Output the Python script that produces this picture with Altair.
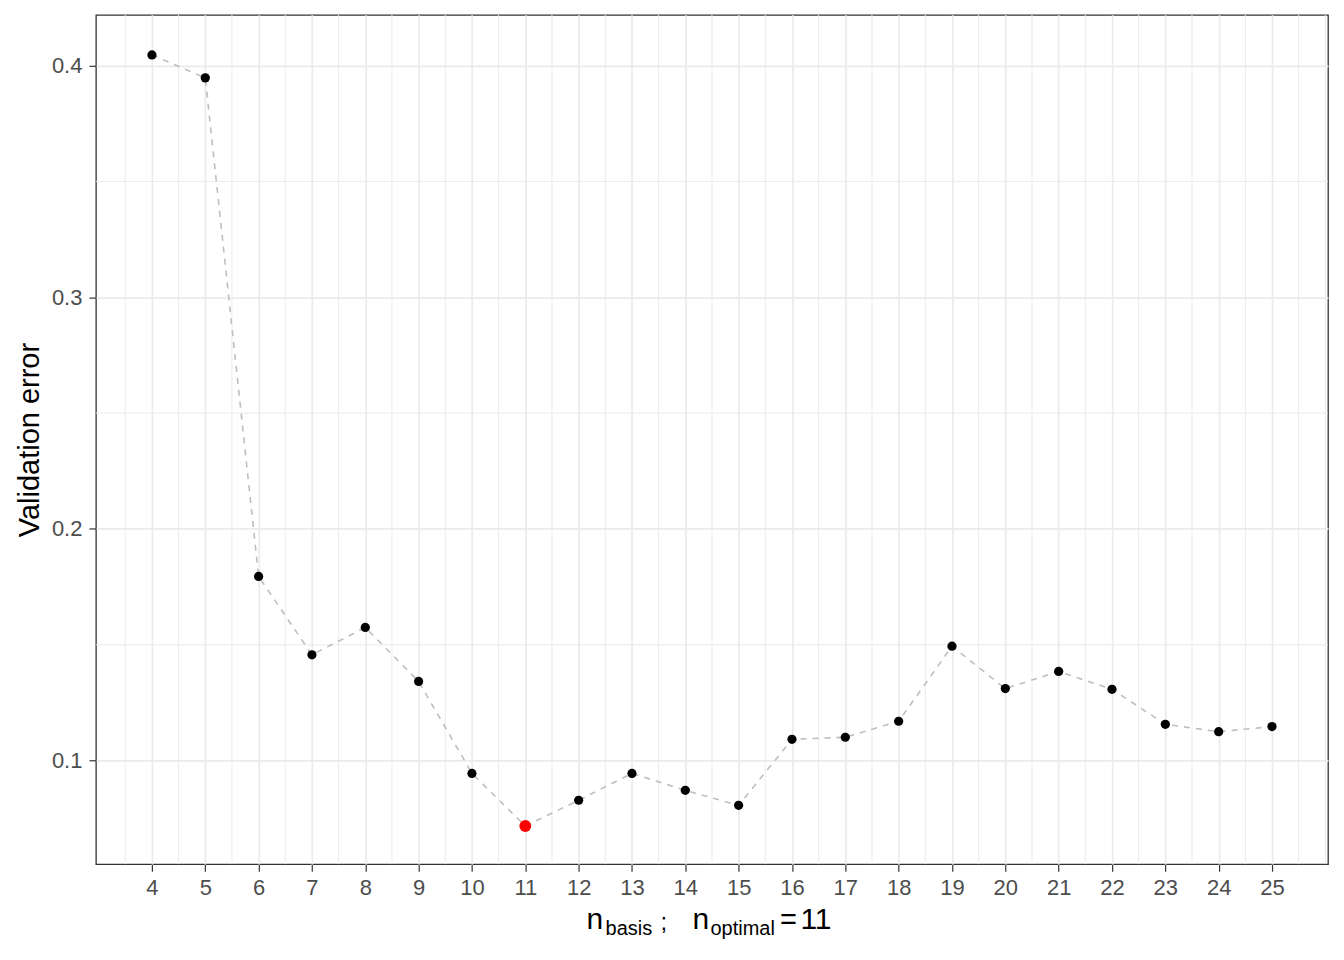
import altair as alt
import pandas as pd

# ---- data ----
n_basis = [4, 5, 6, 7, 8, 9, 10, 11, 12, 13, 14, 15, 16, 17, 18, 19, 20, 21, 22, 23, 24, 25]
val_error = [0.4046, 0.3947, 0.1795, 0.1457, 0.1575, 0.1342, 0.0945, 0.0718, 0.0829,
             0.0945, 0.0872, 0.0807, 0.1092, 0.1101, 0.1170, 0.1494, 0.1311, 0.1385,
             0.1308, 0.1157, 0.1125, 0.1147]
x_ticks = list(range(4, 26))
y_ticks = [0.1, 0.2, 0.3, 0.4]
x_minor = [3.5 + i for i in range(23)] + [26.0]
y_minor = [0.15, 0.25, 0.35]

df = pd.DataFrame({"n": n_basis, "err": val_error})
n_opt = int(df.loc[df["err"].idxmin(), "n"])

FONT = "Liberation Sans"
W, H = 1233, 850

xscale = alt.Scale(domain=[2.95, 26.05], nice=False, zero=False)
yscale = alt.Scale(domain=[0.0553, 0.4219], nice=False, zero=False)

xaxis = alt.Axis(values=x_ticks, title="", grid=True, gridColor="#EBEBEB", gridWidth=1.7,
                 domain=False, ticks=True, tickColor="#333333", tickSize=7, tickWidth=1.2,
                 labelFont=FONT, labelFontSize=22, labelColor="#4D4D4D", labelPadding=6,
                 labelFlush=False, labelOverlap=False)
yaxis = alt.Axis(values=y_ticks, format=".1f", title="Validation error", grid=True,
                 gridColor="#EBEBEB", gridWidth=1.7, domain=False, ticks=True,
                 tickColor="#333333", tickSize=7, tickWidth=1.2,
                 labelFont=FONT, labelFontSize=22, labelColor="#4D4D4D", labelPadding=7,
                 titleFont=FONT, titleFontSize=29, titleFontWeight="normal", titleColor="black",
                 titleAngle=270, titleX=-57, titleY=425, titleAlign="center",
                 titleBaseline="alphabetic")

minor_x = alt.Chart(pd.DataFrame({"v": x_minor})).mark_rule(
    color="#EBEBEB", strokeWidth=1.0).encode(x=alt.X("v:Q", scale=xscale, axis=xaxis))
minor_y = alt.Chart(pd.DataFrame({"v": y_minor})).mark_rule(
    color="#EBEBEB", strokeWidth=1.0).encode(y=alt.Y("v:Q", scale=yscale, axis=yaxis))

base = alt.Chart(df).encode(
    x=alt.X("n:Q", scale=xscale, axis=xaxis),
    y=alt.Y("err:Q", scale=yscale, axis=yaxis),
)
line = base.mark_line(color="#BEBEBE", strokeWidth=1.6, strokeDash=[6, 6])
points = base.mark_point(filled=True, opacity=1, shape="circle").encode(
    color=alt.condition(alt.datum.n == n_opt, alt.value("red"), alt.value("black")),
    size=alt.condition(alt.datum.n == n_opt, alt.value(140), alt.value(85)),
)

# x-axis title with subscripts: n_basis ;  n_optimal = 11
title_parts = [
    ("n", 491, 914.5, 30, "left"),
    ("basis", 510, 920.5, 20, "left"),
    (";", 565, 915.5, 24, "left"),
    ("n", 597, 914.5, 30, "left"),
    ("optimal", 615, 920.5, 20, "left"),
    ("=", 693, 914.5, 29, "center"),
    (str(n_opt), 705, 914.5, 30, "left"),
]
title_layers = []
for txt, tx, ty, fs, al in title_parts:
    title_layers.append(
        alt.Chart(pd.DataFrame({"t": [txt]})).mark_text(
            font=FONT, fontSize=fs, color="black", align=al, baseline="alphabetic"
        ).encode(x=alt.value(tx), y=alt.value(ty), text="t:N")
    )

chart = alt.layer(minor_x, minor_y, line, points, *title_layers).properties(
    width=W, height=H, autosize="none",
    padding={"left": 88, "top": 6.5, "right": 8, "bottom": 95},
).configure_view(stroke="#333333", strokeWidth=1.3)

chart.save("out.html", embed_options={"renderer": "svg", "actions": False})
